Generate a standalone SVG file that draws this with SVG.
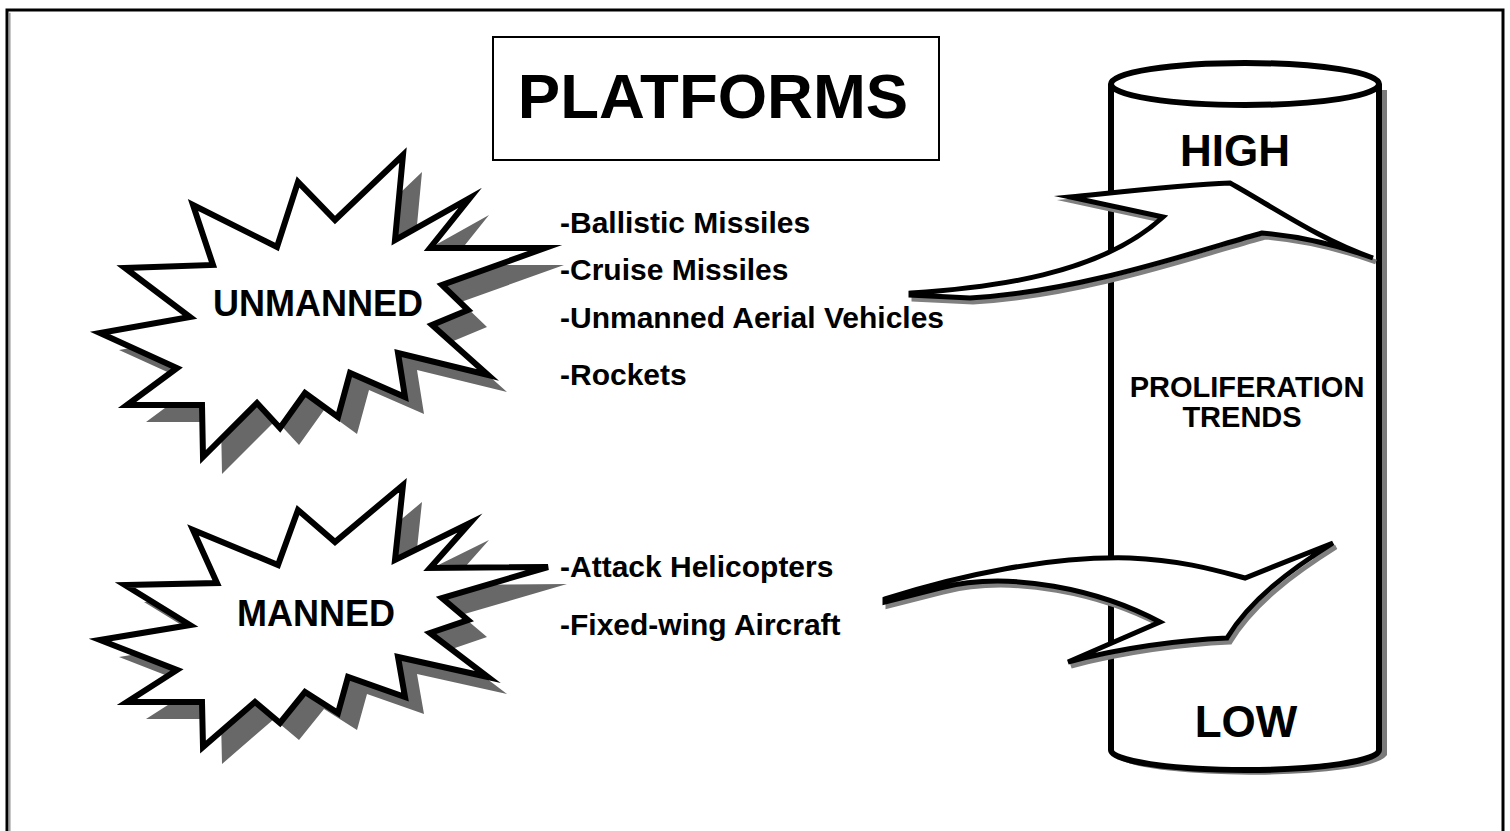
<svg xmlns="http://www.w3.org/2000/svg" xmlns:xlink="http://www.w3.org/1999/xlink" width="1510" height="831" viewBox="0 0 1510 831">
  <style>
    .frame { fill: none; stroke: #000; stroke-width: 3; }
    .frame-inner { fill: none; stroke: #9a9a9a; stroke-width: 1.5; }
    .box { fill: #fff; stroke: #000; stroke-width: 2; }
    .title { font-family: "Liberation Sans", Arial, sans-serif; font-weight: bold; font-size: 63.5px; fill: #000; text-anchor: middle; }
    .burst { fill: #fff; stroke: #000; stroke-width: 6; stroke-linejoin: miter; stroke-miterlimit: 6; }
    .burst-shadow { fill: #686868; stroke: none; }
    .burst-label { font-family: "Liberation Sans", Arial, sans-serif; font-weight: bold; font-size: 36px; fill: #000; text-anchor: middle; }
    .item { font-family: "Liberation Sans", Arial, sans-serif; font-weight: bold; font-size: 30px; fill: #000; }
    .cyl { fill: #fff; stroke: #000; stroke-width: 6; }
    .cyl-shadow { fill: none; stroke: #7a7a7a; stroke-width: 6; }
    .cyl-big { font-family: "Liberation Sans", Arial, sans-serif; font-weight: bold; font-size: 44px; fill: #000; text-anchor: middle; }
    .cyl-small { font-family: "Liberation Sans", Arial, sans-serif; font-weight: bold; font-size: 29px; fill: #000; text-anchor: middle; }
    .arrow { fill: #fff; stroke: #000; stroke-width: 5; stroke-linejoin: miter; stroke-miterlimit: 8; }
    .arrow-shadow { fill: none; stroke: #808080; stroke-width: 5; stroke-linejoin: miter; stroke-miterlimit: 8; }
  </style>
  <defs>
    <polygon id="burst-unmanned" points="403,155 395,240 470,198 430,248 545,248 442,285 468,310 432,325 488,375 398,353 405,397 350,373 338,417 305,393 280,428 257,403 203,457 202,405 127,405 177,368 100,333 190,317 125,268 213,265 193,205 277,247 298,182 335,220"/>
    <polygon id="burst-manned" points="403,485 395,560 470,523 430,568 548,567 442,598 468,620 430,633 488,677 398,657 405,697 348,677 338,713 305,692 280,723 255,702 203,747 202,702 127,702 177,670 100,640 190,625 125,585 217,583 193,530 278,565 298,510 335,542"/>
    <path id="arrow-up" d="M911,293 C990,288 1100,275 1163,217 L1070,197 C1120,192 1180,185 1230,183 C1270,205 1320,240 1373,258 C1340,246 1300,236 1262,233 C1200,250 1080,292 970,298 L911,295 Z"/>
    <path id="arrow-down" d="M885,599 C960,575 1050,556 1130,558 C1180,560 1215,570 1245,578 L1333,543 C1290,570 1250,600 1227,638 C1180,640 1120,648 1068,662 L1160,622 C1100,590 1010,570 940,588 L885,602 Z"/>
  </defs>

  <!-- outer frame -->
  <g id="frame">
    <path class="frame" d="M7,831 V10 H1503 V831"/>
    <path class="frame-inner" d="M9.8,831 V12.8"/>
  </g>

  <!-- title -->
  <g id="title">
    <rect class="box" x="493" y="37" width="446" height="123"/>
    <text class="title" x="713" y="118">PLATFORMS</text>
  </g>

  <!-- proliferation cylinder -->
  <g id="cylinder">
    <path class="cyl-shadow" d="M1384,90 V754 A134,20 0 0 1 1120,756"/>
    <path class="cyl" d="M1111,84 V750 A134,20 0 0 0 1379,750 V84"/>
    <ellipse class="cyl" cx="1245" cy="84" rx="134" ry="21"/>
    <text class="cyl-big" x="1235" y="166">HIGH</text>
    <text class="cyl-small" x="1247" y="397">PROLIFERATION</text>
    <text class="cyl-small" x="1242" y="427">TRENDS</text>
    <text class="cyl-big" x="1246" y="737">LOW</text>
  </g>

  <!-- unmanned platforms -->
  <g id="unmanned">
    <use xlink:href="#burst-unmanned" class="burst-shadow" transform="translate(19,17)"/>
    <use xlink:href="#burst-unmanned" class="burst"/>
    <text class="burst-label" x="318" y="316">UNMANNED</text>
  </g>
  <g id="unmanned-list">
    <text class="item" x="560" y="233">-Ballistic Missiles</text>
    <text class="item" x="560" y="280">-Cruise Missiles</text>
    <text class="item" x="560" y="328">-Unmanned Aerial Vehicles</text>
    <text class="item" x="560" y="385">-Rockets</text>
  </g>

  <!-- manned platforms -->
  <g id="manned">
    <use xlink:href="#burst-manned" class="burst-shadow" transform="translate(19,17)"/>
    <use xlink:href="#burst-manned" class="burst"/>
    <text class="burst-label" x="316" y="626">MANNED</text>
  </g>
  <g id="manned-list">
    <text class="item" x="560" y="577">-Attack Helicopters</text>
    <text class="item" x="560" y="635">-Fixed-wing Aircraft</text>
  </g>

  <!-- trend arrows -->
  <g id="connectors">
    <use xlink:href="#arrow-up" class="arrow-shadow" transform="translate(3,4)"/>
    <use xlink:href="#arrow-up" class="arrow"/>
    <use xlink:href="#arrow-down" class="arrow-shadow" transform="translate(3,4)"/>
    <use xlink:href="#arrow-down" class="arrow"/>
  </g>
</svg>
